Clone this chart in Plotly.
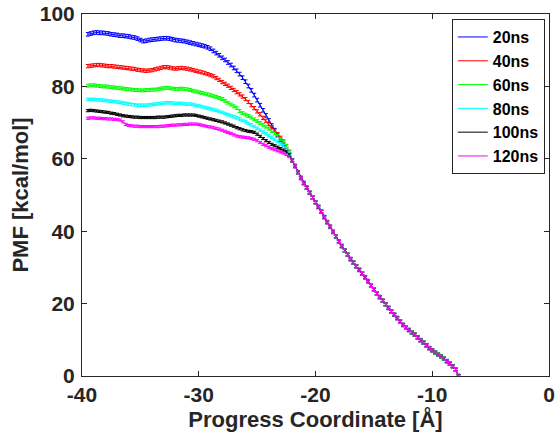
import numpy as np
import plotly.graph_objects as go

# Progress coordinate grid: head part (-39.5 .. -22.25) and shared tail (-22.0 .. -7.75), step 0.25
X_HEAD_START = -39.5
X_TAIL_START = -22.0
STEP = 0.25

LABELS = ["20ns", "40ns", "60ns", "80ns", "100ns", "120ns"]
COLORS = ["#0000FF", "#FF0000", "#00FF00", "#00FFFF", "#000000", "#FF00FF"]
ERRORS = [0.5, 0.45, 0.4, 0.35, 0.3, 0.3]

HEAD_20 = [94.4, 94.6, 94.8, 94.9, 94.8, 94.8, 94.7, 94.6, 94.4, 94.3, 94.2, 94.0,
           94.0, 93.9, 93.8, 93.6, 93.5, 93.2, 92.8, 92.5, 92.6, 92.8, 92.9, 93.0,
           93.1, 93.2, 93.3, 93.3, 93.2, 93.0, 92.8, 92.7, 92.6, 92.5, 92.3, 92.1,
           91.9, 91.7, 91.5, 91.3, 91.1, 90.8, 90.4, 89.8, 89.2, 88.6, 87.9, 87.3,
           86.6, 85.9, 85.1, 84.3, 83.4, 82.4, 81.3, 80.1, 78.9, 77.6, 76.2, 74.8,
           73.4, 72.0, 70.6, 69.2, 67.9, 66.6, 65.3, 64.1, 62.6, 61.2]
HEAD_40 = [85.6, 85.7, 85.8, 85.9, 85.9, 85.8, 85.7, 85.6, 85.6, 85.5, 85.4, 85.3,
           85.2, 85.1, 85.0, 84.9, 84.8, 84.6, 84.5, 84.4, 84.3, 84.4, 84.5, 84.7,
           84.9, 85.1, 85.3, 85.3, 85.2, 85.0, 84.9, 85.0, 85.1, 85.0, 84.9, 84.7,
           84.5, 84.3, 84.1, 83.9, 83.7, 83.4, 83.1, 82.8, 82.3, 81.8, 81.2, 80.7,
           80.2, 79.6, 79.0, 78.4, 77.8, 77.2, 76.5, 75.7, 74.8, 74.0, 73.1, 72.3,
           71.3, 70.5, 69.6, 68.7, 67.7, 66.8, 65.8, 64.8, 63.4, 61.9]
HEAD_60 = [80.2, 80.3, 80.3, 80.2, 80.1, 80.0, 80.0, 79.9, 79.8, 79.7, 79.6, 79.5,
           79.4, 79.3, 79.2, 79.1, 79.0, 79.0, 78.9, 78.9, 79.0, 79.0, 79.1, 79.1,
           79.2, 79.4, 79.5, 79.6, 79.5, 79.4, 79.3, 79.3, 79.4, 79.3, 79.2, 79.0,
           78.8, 78.6, 78.4, 78.2, 78.0, 77.8, 77.6, 77.3, 77.1, 76.8, 76.5, 76.0,
           75.5, 75.0, 74.5, 74.0, 73.2, 72.6, 72.2, 71.8, 71.4, 70.9, 70.4, 69.9,
           69.4, 68.9, 68.3, 67.7, 67.0, 66.3, 65.5, 64.7, 63.6, 62.0]
HEAD_80 = [76.4, 76.4, 76.4, 76.3, 76.3, 76.2, 76.1, 76.0, 75.9, 75.8, 75.7, 75.6,
           75.4, 75.3, 75.1, 75.0, 74.9, 74.8, 74.8, 74.8, 74.8, 74.9, 75.0, 75.1,
           75.2, 75.3, 75.4, 75.5, 75.5, 75.4, 75.3, 75.3, 75.3, 75.2, 75.1, 75.1,
           75.0, 74.8, 74.6, 74.4, 74.2, 74.0, 73.8, 73.6, 73.4, 73.1, 72.8, 72.5,
           72.2, 71.9, 71.6, 71.3, 71.0, 70.6, 70.2, 69.8, 69.4, 68.9, 68.4, 67.9,
           67.4, 66.9, 66.4, 65.9, 65.4, 64.8, 64.2, 63.6, 62.8, 61.6]
HEAD_100 = [73.3, 73.4, 73.3, 73.2, 73.1, 73.0, 72.9, 72.8, 72.6, 72.5, 72.3, 72.1,
            71.9, 71.8, 71.7, 71.6, 71.5, 71.5, 71.4, 71.4, 71.4, 71.4, 71.4, 71.4,
            71.5, 71.5, 71.5, 71.6, 71.7, 71.8, 71.9, 72.0, 72.0, 72.1, 72.1, 72.1,
            72.1, 72.0, 71.8, 71.6, 71.4, 71.2, 71.0, 70.8, 70.6, 70.4, 70.2, 69.9,
            69.6, 69.3, 69.0, 68.6, 68.3, 68.0, 67.8, 67.6, 67.5, 67.3, 66.8, 66.2,
            65.6, 65.0, 64.5, 64.0, 63.6, 63.2, 62.8, 62.4, 61.9, 61.1]
HEAD_120 = [71.2, 71.3, 71.3, 71.2, 71.2, 71.1, 71.1, 71.0, 71.0, 70.9, 70.8, 70.7,
            70.2, 69.5, 69.2, 69.1, 69.0, 69.0, 68.9, 68.9, 68.9, 68.9, 68.9, 68.9,
            68.9, 69.0, 69.0, 69.1, 69.2, 69.3, 69.3, 69.4, 69.4, 69.5, 69.5, 69.6,
            69.6, 69.6, 69.5, 69.3, 69.1, 68.9, 68.8, 68.6, 68.4, 68.2, 67.9, 67.6,
            67.3, 67.0, 66.6, 66.3, 66.1, 66.0, 65.9, 65.8, 65.6, 65.4, 65.0, 64.5,
            64.0, 63.6, 63.2, 62.8, 62.5, 62.2, 61.9, 61.6, 61.2, 60.6]

TAIL = [59.6, 58.0, 56.3, 54.7, 53.3, 52.0, 50.6, 49.3, 48.0, 46.7, 45.4, 43.9,
        42.5, 41.2, 39.8, 38.5, 37.2, 35.9, 34.7, 33.5, 32.3, 31.3, 30.3, 29.3,
        28.3, 27.3, 26.2, 25.0, 23.9, 22.8, 21.8, 20.8, 19.8, 18.8, 17.8, 16.9,
        16.0, 15.1, 14.1, 13.4, 12.7, 12.0, 11.4, 10.7, 9.9, 9.2, 8.5, 7.7,
        7.1, 6.5, 5.9, 5.4, 4.8, 4.1, 3.4, 2.7, 1.8, 0.0]

HEADS = [HEAD_20, HEAD_40, HEAD_60, HEAD_80, HEAD_100, HEAD_120]

X_TICKS = [-40, -30, -20, -10, 0]
Y_TICKS = [0, 20, 40, 60, 80, 100]

FONT = "Arial, 'Liberation Sans', Helvetica, sans-serif"
AXIS_COLOR = "#262626"

fig = go.Figure()
for label, color, err, head in zip(LABELS, COLORS, ERRORS, HEADS):
    xh = [X_HEAD_START + STEP * i for i in range(len(head))]
    xt = [X_TAIL_START + STEP * i for i in range(len(TAIL))]
    ys = list(head) + list(TAIL)
    xs = xh + xt
    fig.add_trace(go.Scatter(
        x=xs, y=ys, mode="lines", name=label,
        line=dict(color=color, width=1),
        error_y=dict(type="constant", value=err, color=color,
                     thickness=1, width=2, visible=True),
    ))

fig.update_layout(
    width=555, height=432,
    margin=dict(l=82, r=6, t=14, b=56),
    paper_bgcolor="white", plot_bgcolor="white",
    font=dict(family=FONT, color=AXIS_COLOR, size=20, weight="bold"),
    showlegend=True,
    legend=dict(
        x=0.991, xanchor="right", y=0.986, yanchor="top",
        bgcolor="white", bordercolor=AXIS_COLOR, borderwidth=1,
        font=dict(family=FONT, size=16, color="black", weight="bold"),
        itemwidth=30, tracegroupgap=0,
    ),
)
fig.update_xaxes(
    range=[-40, 0], tickvals=X_TICKS, ticktext=[str(v) for v in X_TICKS],
    showgrid=False, zeroline=False, showline=True, linecolor=AXIS_COLOR, linewidth=1,
    mirror="ticks", ticks="inside", ticklen=5, tickcolor=AXIS_COLOR,
    ticklabeloverflow="allow",
    tickfont=dict(family=FONT, size=21, color=AXIS_COLOR, weight="bold"),
    title=dict(text="Progress Coordinate [Å]", standoff=5,
               font=dict(family=FONT, size=22, color=AXIS_COLOR, weight="bold")),
    automargin=False,
)
fig.update_yaxes(
    range=[0, 100], tickvals=Y_TICKS, ticktext=[str(v) for v in Y_TICKS],
    showgrid=False, zeroline=False, showline=True, linecolor=AXIS_COLOR, linewidth=1,
    mirror="ticks", ticks="inside", ticklen=5, tickcolor=AXIS_COLOR,
    ticklabelstandoff=2, ticklabeloverflow="allow",
    tickfont=dict(family=FONT, size=21, color=AXIS_COLOR, weight="bold"),
    title=dict(text="PMF [kcal/mol]", standoff=5,
               font=dict(family=FONT, size=22, color=AXIS_COLOR, weight="bold")),
    automargin=False,
)

# remove the default 8px page margin so the figure fills the 555x432 window exactly
fig.write_html("out.html", config={"displayModeBar": False},
               post_script="document.body.style.margin='0';")
